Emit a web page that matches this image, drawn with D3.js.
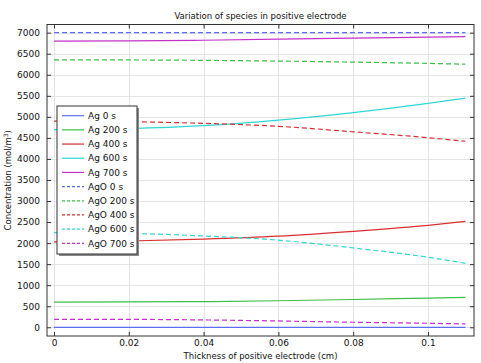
<!DOCTYPE html>
<html>
<head>
<meta charset="utf-8">
<script src="https://cdn.jsdelivr.net/npm/d3@7"></script>
<style>
  body { margin: 0; background: #fff; }
  svg { font-family: "DejaVu Sans", sans-serif; }
</style>
</head>
<body>
<svg id="grafico" width="481" height="363"></svg>
<script>
// posições ao longo do eletrodo (cm)
const xs = [0, 0.02, 0.04, 0.06, 0.08, 0.1, 0.11];

const ag0   = [0, 0, 0, 0, 0, 0, 0];
const ag200 = [600, 602, 610, 630, 660, 695, 710];
const ag400 = [2030, 2050, 2095, 2165, 2280, 2420, 2515];
const ag600 = [4695, 4720, 4790, 4920, 5100, 5320, 5445];
const ag700 = [6800, 6805, 6820, 6845, 6870, 6895, 6905];

const ago0   = [7000, 7000, 7000, 7000, 7000, 7000, 7000];
const ago200 = [6355, 6352, 6342, 6325, 6300, 6270, 6250];
const ago400 = [4900, 4885, 4845, 4775, 4645, 4505, 4420];
const ago600 = [2250, 2230, 2170, 2070, 1885, 1665, 1520];
const ago700 = [190, 188, 175, 150, 120, 95, 80];

const nomes = ["Ag 0 s", "Ag 200 s", "Ag 400 s", "Ag 600 s", "Ag 700 s",
               "AgO 0 s", "AgO 200 s", "AgO 400 s", "AgO 600 s", "AgO 700 s"];
const valores = [ag0, ag200, ag400, ag600, ag700, ago0, ago200, ago400, ago600, ago700];
const cores = ["#5b6ef2", "#3cbf45", "#d9302f", "#2ed6d6", "#c431c8"];

const xTicks = [0, 0.02, 0.04, 0.06, 0.08, 0.1];
const yTicks = d3.range(0, 7001, 500);

const svg = d3.select("#grafico");
const esq = 47, dir = 474, topo = 24.5, base = 336;

const x = d3.scaleLinear().domain([-0.00187, 0.1123]).range([esq, dir]);
const y = d3.scaleLinear().domain([-207, 7194]).range([base, topo]);

// grade
const grade = svg.append("g").attr("stroke", "#e4e4e4").attr("stroke-width", 1);
xTicks.forEach(t => grade.append("line")
  .attr("x1", Math.round(x(t)) + 0.5).attr("x2", Math.round(x(t)) + 0.5)
  .attr("y1", topo).attr("y2", base));
yTicks.forEach(t => grade.append("line")
  .attr("x1", esq).attr("x2", dir)
  .attr("y1", Math.round(y(t)) + 0.5).attr("y2", Math.round(y(t)) + 0.5));

// curvas
const linha = d3.line()
  .x((d, i) => x(xs[i]))
  .y(d => y(d))
  .curve(d3.curveMonotoneX);

svg.append("clipPath").attr("id", "area")
  .append("rect").attr("x", esq).attr("y", topo).attr("width", dir - esq).attr("height", base - topo);

const curvas = svg.append("g").attr("clip-path", "url(#area)");
valores.forEach((serie, i) => {
  curvas.append("path")
    .datum(serie)
    .attr("d", linha)
    .attr("fill", "none")
    .attr("stroke", cores[i % 5])
    .attr("stroke-width", 1.2)
    .attr("stroke-dasharray", i >= 5 ? "5,3" : null);
});

// eixos (ticks para dentro nos quatro lados)
const fmtX = d => d === 0 ? "0" : d3.format("~g")(d);
svg.append("g")
  .attr("transform", `translate(0,${base})`)
  .call(d3.axisBottom(x).tickValues(xTicks).tickSize(-4).tickPadding(4).tickFormat(fmtX))
  .call(g => g.select(".domain").remove());
svg.append("g")
  .attr("transform", `translate(0,${topo})`)
  .call(d3.axisTop(x).tickValues(xTicks).tickSize(-4).tickFormat(""))
  .call(g => g.select(".domain").remove());
svg.append("g")
  .attr("transform", `translate(${esq},0)`)
  .call(d3.axisLeft(y).tickValues(yTicks).tickSize(-4).tickPadding(7).tickFormat(d3.format("d")))
  .call(g => g.select(".domain").remove());
svg.append("g")
  .attr("transform", `translate(${dir},0)`)
  .call(d3.axisRight(y).tickValues(yTicks).tickSize(-4).tickFormat(""))
  .call(g => g.select(".domain").remove());

svg.selectAll(".tick line").attr("stroke", "#333");
svg.selectAll(".tick text").attr("font-size", 9).attr("fill", "#111")
  .attr("font-family", "DejaVu Sans, sans-serif");

svg.append("rect")
  .attr("x", esq).attr("y", topo).attr("width", dir - esq).attr("height", base - topo)
  .attr("fill", "none").attr("stroke", "#333").attr("stroke-width", 1);

// títulos
svg.append("text")
  .attr("x", (esq + dir) / 2).attr("y", 19)
  .attr("text-anchor", "middle").attr("font-size", 8.5).attr("fill", "#111")
  .text("Variation of species in positive electrode");

svg.append("text")
  .attr("x", (esq + dir) / 2).attr("y", 358.5)
  .attr("text-anchor", "middle").attr("font-size", 8.5).attr("fill", "#111")
  .text("Thickness of positive electrode (cm)");

const rotY = svg.append("text")
  .attr("transform", `translate(11,${(topo + base) / 2}) rotate(-90)`)
  .attr("text-anchor", "middle").attr("font-size", 8.5).attr("fill", "#111");
rotY.append("tspan").text("Concentration (mol/m");
rotY.append("tspan").attr("font-size", 6).attr("dy", -3).text("3");
rotY.append("tspan").attr("dy", 3).text(")");

// legenda
const lx = 57, ly = 106, lw = 80, lh = 148;
svg.append("rect").attr("x", lx + 2).attr("y", ly + 2).attr("width", lw).attr("height", lh)
  .attr("fill", "#888");
svg.append("rect").attr("x", lx).attr("y", ly).attr("width", lw).attr("height", lh)
  .attr("fill", "#fff").attr("stroke", "#333").attr("stroke-width", 1);

nomes.forEach((nome, i) => {
  const yy = 115.7 + i * 14.18;
  svg.append("line")
    .attr("x1", 62).attr("x2", 84).attr("y1", yy).attr("y2", yy)
    .attr("stroke", cores[i % 5]).attr("stroke-width", 1.2)
    .attr("stroke-dasharray", i >= 5 ? "3,2" : null);
  svg.append("text")
    .attr("x", 88).attr("y", yy + 3.2)
    .attr("font-size", 9).attr("fill", "#111")
    .text(nome);
});
</script>
</body>
</html>
